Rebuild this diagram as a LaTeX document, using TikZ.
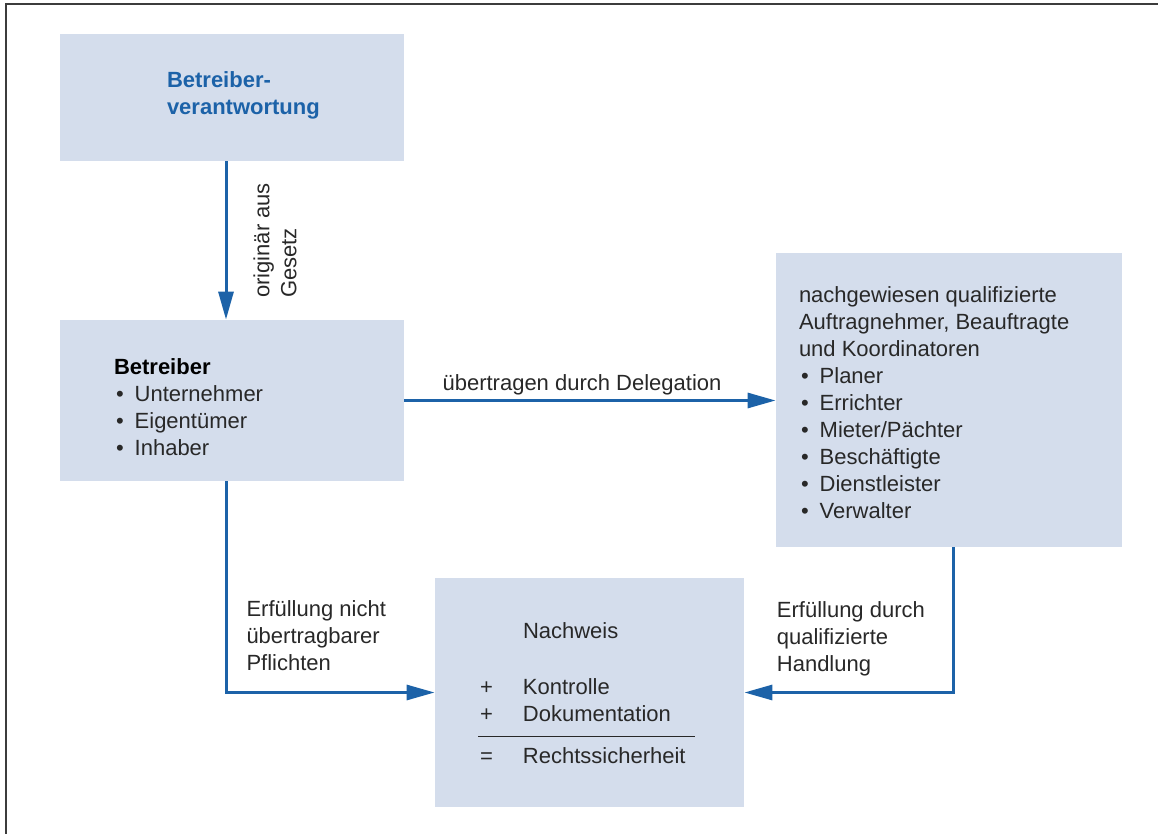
\documentclass[tikz,border=0pt]{standalone}
\usepackage{fontspec}
\setmainfont{Liberation Sans}
\usepackage{xcolor}
\usepackage{tikz}
\usetikzlibrary{arrows.meta,positioning}
\definecolor{boxfill}{RGB}{212,221,236}
\definecolor{arrblue}{RGB}{28,98,168}
\definecolor{txtgray}{RGB}{40,40,40}
\definecolor{framegray}{RGB}{60,60,60}
\newcommand{\blt}{\hspace*{1pt}\textbullet\hspace{5.5pt}}
\setlength{\arrayrulewidth}{0.7pt}
\begin{document}
\begin{tikzpicture}[x=0.5pt,y=-0.5pt,
    every node/.style={font=\fontsize{11}{13.5}\selectfont, text=txtgray},
    box/.style={fill=boxfill, inner sep=0pt},
    txt/.style={align=left, inner sep=0pt, anchor=north west},
    lbl/.style={align=left, inner sep=0pt},
    arr/.style={draw=arrblue, line width=1.5pt, -{Triangle[length=14pt,width=7.5pt]}}]
    \useasboundingbox (0,0) rectangle (1158,834);
    \draw[framegray, line width=1pt] (6,834) -- (6,4) -- (1158,4);
    \node [box, minimum width=172pt, minimum height=63.5pt] (verantw) at (232,97.5) {};
    \node [box, minimum width=172pt, minimum height=80.5pt] (betreiber) at (232,400.5) {};
    \node [box, minimum width=173pt, minimum height=147pt] (auftrag) at (949,400) {};
    \node [box, minimum width=154.5pt, minimum height=114.5pt] (nachweis) at (589.5,692.5) {};
    \node [txt, text=arrblue, font=\fontsize{11}{13.5}\selectfont\bfseries] (verantwtxt)
      at ([xshift=53.5pt,yshift=-19pt]verantw.north west) {Betreiber-\\verantwortung};
    \node [txt] (betreibertxt) at ([xshift=27pt,yshift=-19.5pt]betreiber.north west)
      {\textcolor{black}{\bfseries Betreiber}\\\blt Unternehmer\\\blt Eigentümer\\\blt Inhaber};
    \node [txt] (auftragtxt) at ([xshift=11.5pt,yshift=-17pt]auftrag.north west)
      {nachgewiesen qualifizierte\\Auftragnehmer, Beauftragte\\und Koordinatoren\\
       \blt Planer\\\blt Errichter\\\blt Mieter/Pächter\\\blt Beschäftigte\\\blt Dienstleister\\\blt Verwalter};
    \node [txt] (nachweistxt) at ([xshift=21.5pt,yshift=-21pt]nachweis.north west)
      {\begin{tabular}{@{}p{22.5pt}@{}l@{\hspace{4.5pt}}}
         & Nachweis\\[14.5pt]
       \hspace*{1pt}+ & Kontrolle\\
       \hspace*{1pt}+ & Dokumentation\\[3pt]
       \hline
       \hspace*{1pt}= & \rule{0pt}{13pt}Rechtssicherheit
       \end{tabular}};
    \draw [arr] ([xshift=-3pt]verantw.south) -- ([xshift=-3pt]betreiber.north)
      node [lbl, midway, rotate=90, anchor=north, yshift=-13pt] {originär aus\\Gesetz};
    \draw [arr] (betreiber.east) -- (auftrag.west |- betreiber.east)
      node [lbl, midway, above=2pt, xshift=-4pt] {übertragen durch Delegation};
    \draw [arr] ([xshift=-3pt]betreiber.south) |- (nachweis.west)
      node [lbl, pos=0.5, anchor=south west, xshift=9.5pt, yshift=10pt]
      {Erfüllung nicht\\übertragbarer\\Pflichten};
    \draw [arr] ([xshift=2pt]auftrag.south) |- (nachweis.east)
      node [lbl, pos=1, anchor=south west, xshift=15.5pt, yshift=7.5pt]
      {Erfüllung durch\\qualifizierte\\Handlung};
\end{tikzpicture}
\end{document}
